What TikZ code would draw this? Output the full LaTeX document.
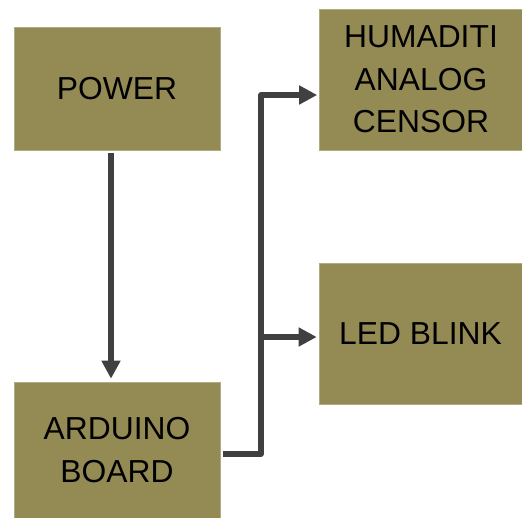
\documentclass[tikz,border=0pt]{standalone}
\usepackage{fontspec}
\setmainfont{Liberation Sans}
\usetikzlibrary{arrows.meta,calc}
\definecolor{boxfill}{HTML}{948A54}
\definecolor{boxedge}{HTML}{B2AA80}
\definecolor{conncol}{HTML}{404040}
\begin{document}
\begin{tikzpicture}[x=1pt,y=-1pt,
  blockbox/.style={rectangle, fill=boxfill, draw=boxedge, line width=0.6pt,
    inner sep=0pt, align=center, text=black,
    font=\fontsize{31.8}{42.5}\selectfont},
  conn/.style={draw=conncol, line width=5.5pt, line join=round,
    -{Triangle[length=18pt,width=18pt]}, conncol}]
\useasboundingbox (0,0) rectangle (522,517);
\node[blockbox, minimum width=206pt, minimum height=123pt] (power) at (117,88.5) {POWER};
\node[blockbox, minimum width=206pt, minimum height=136pt] (ard) at (117,450) {ARDUINO\\BOARD};
\node[blockbox, minimum width=203pt, minimum height=141pt] (hum) at (421,79.5) {HUMADITI\\ANALOG\\CENSOR};
\node[blockbox, minimum width=203pt, minimum height=141pt] (led) at (420.5,333.5) {LED BLINK};
\coordinate (tb) at (261,454);
\coordinate (tt) at (261,95);
\coordinate (tm) at (261,337);
\draw[conn] ([shift={(-6,3)}]power.south) -- ([shift={(-6,-3)}]ard.north);
\draw[conn] ([shift={(3,4)}]ard.east) -- (tb) -- (tt) -- ([shift={(-2,15.5)}]hum.west);
\draw[conn] (tm) -- ([shift={(-2,3.5)}]led.west);
\end{tikzpicture}
\end{document}
